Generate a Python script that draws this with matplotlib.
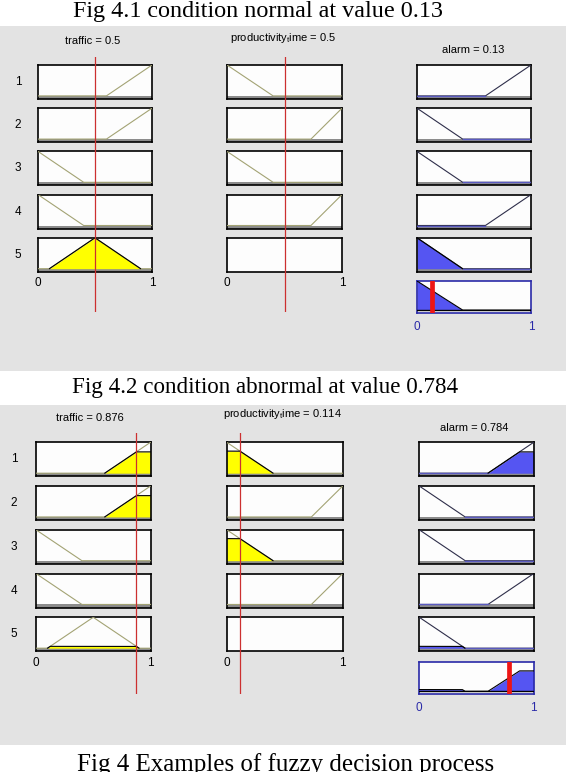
import numpy as np
import matplotlib
matplotlib.use('Agg')
import matplotlib.pyplot as plt
from matplotlib.patches import Rectangle

plt.rcParams['font.family'] = ['Liberation Sans', 'DejaVu Sans']
plt.rcParams['mathtext.fontset'] = 'custom'
plt.rcParams['mathtext.rm'] = 'Liberation Sans'
plt.rcParams['mathtext.it'] = 'Liberation Sans'

W, H = 566, 772

# ---------------- data ----------------
rule_ids = ['1', '2', '3', '4', '5']
traffic_mf_x = [[0.6, 1.0], [0.6, 1.0], [0.0, 0.4], [0.0, 0.4], [0.1, 0.5, 0.9]]
traffic_mf_y = [[0, 1], [0, 1], [1, 0], [1, 0], [0, 1, 0]]
prod_mf_x = [[0.0, 0.4], [0.73, 1.0], [0.0, 0.4], [0.73, 1.0], None]
prod_mf_y = [[1, 0], [0, 1], [1, 0], [0, 1], None]
alarm_mf_x = [[0.6, 1.0], [0.0, 0.4], [0.0, 0.4], [0.6, 1.0], [0.0, 0.4]]
alarm_mf_y = [[0, 1], [1, 0], [1, 0], [0, 1], [1, 0]]

case_titles = ['Fig 4.1 condition normal at value 0.13',
               'Fig 4.2 condition abnormal at value 0.784']
traffic_values = [0.5, 0.876]
prod_values = [0.5, 0.114]
alarm_values = [0.13, 0.784]
caption = 'Fig 4 Examples of fuzzy decision process'

# ---------------- layout (pixels) ----------------
layouts = [
    dict(bg=(26, 371), title_y=11, title_x=258, title_fs=17.4,
         cols=[(38, 152), (227, 342), (417, 531)],
         row_top0=65, row_step=43.2, row_h=34, out_box=(281, 313),
         in_tick_y=283, out_tick_y=327, red=(57, 312),
         head=[(93, 41), (283, 38), (473, 50)], label_x=18),
    dict(bg=(405, 745), title_y=387, title_x=265, title_fs=16.6,
         cols=[(36, 150.5), (226.7, 342.7), (419.3, 533.7)],
         row_top0=442.3, row_step=43.75, row_h=34, out_box=(661.7, 694.3),
         in_tick_y=663, out_tick_y=708, red=(433, 694),
         head=[(90, 417.7), (282, 414.3), (474, 427.7)], label_x=14),
]

BG = '#e3e3e3'
BOX = '#fdfdfd'
STRIP = '#8c8c8c'
IN_LINE = '#a3a374'
OUT_LINE = '#2e2e4a'
OUT_ZERO = '#5a5ac0'
YELLOW = '#ffff00'
BLUE = '#5555f2'
RED_THIN = '#cc3030'
RED_BAR = '#ee1515'
TICK_BLUE = '#2a2aa8'
YLO, YHI = -0.1, 1.0

fig = plt.figure(figsize=(W / 100, H / 100), dpi=100)
fig.patch.set_facecolor('white')
xs = np.linspace(0, 1, 1001)


def add_ax(x0, y0, x1, y1):
    return fig.add_axes([x0 / W, 1 - y1 / H, (x1 - x0) / W, (y1 - y0) / H])


def ftext(x, y, s, **kw):
    fig.text(x / W, 1 - y / H, s, ha='center', va='center', **kw)


def mf_eval(mx, my):
    return np.interp(xs, mx, my)


def style_box(ax, edge='black'):
    ax.set_xlim(0, 1)
    ax.set_ylim(YLO, YHI)
    ax.set_facecolor(BOX)
    ax.set_xticks([])
    ax.set_yticks([])
    for s in ax.spines.values():
        s.set_color(edge)
        s.set_linewidth(1.2)


def draw_mf(ax, mx, my, level, line_col, fill_col, output=False):
    ax.axhspan(YLO, 0, color=STRIP, lw=0, zorder=1)
    m = mf_eval(mx, my)
    ax.plot(xs, m, color=line_col, lw=0.8, zorder=3)
    if output:
        zero = np.where(m <= 1e-9, 0.0, np.nan)
        ax.plot(xs, zero, color=OUT_ZERO, lw=1.0, zorder=4)
    if level > 1e-6:
        clip = np.minimum(m, level)
        ax.fill_between(xs, 0, clip, where=m > 0, color=fill_col, lw=0, zorder=2)
        edge = np.where(m > 0, clip, np.nan)
        ax.plot(xs, edge, color='black', lw=0.8, zorder=4)


for p, L in enumerate(layouts):
    # gray panel
    fig.add_artist(Rectangle((0, 1 - L['bg'][1] / H), 1, (L['bg'][1] - L['bg'][0]) / H,
                             transform=fig.transFigure, facecolor=BG, edgecolor='none', zorder=0))
    ftext(L['title_x'], L['title_y'], case_titles[p],
          family='Liberation Serif', fontsize=L['title_fs'])

    tv, pv, av = traffic_values[p], prod_values[p], alarm_values[p]
    (tx0, tx1), (px0, px1), (ax0, ax1) = L['cols']

    # headers
    ftext(L['head'][0][0], L['head'][0][1], 'traffic = %g' % tv, fontsize=8)
    ftext(L['head'][1][0], L['head'][1][1], r'productivity$_{\rm t}$ime = %g' % pv, fontsize=8)
    ftext(L['head'][2][0], L['head'][2][1], 'alarm = %g' % av, fontsize=8)

    agg = np.zeros_like(xs)
    for i, rid in enumerate(rule_ids):
        top = L['row_top0'] + i * L['row_step']
        bot = top + L['row_h']
        ftext(L['label_x'], (top + bot) / 2, rid, fontsize=8.5)

        # traffic
        a = add_ax(tx0, top, tx1, bot)
        style_box(a)
        mu_t = float(np.interp(tv, traffic_mf_x[i], traffic_mf_y[i]))
        draw_mf(a, traffic_mf_x[i], traffic_mf_y[i], mu_t, IN_LINE, YELLOW)

        # productivity
        a = add_ax(px0, top, px1, bot)
        style_box(a)
        if prod_mf_x[i] is not None:
            mu_p = float(np.interp(pv, prod_mf_x[i], prod_mf_y[i]))
            draw_mf(a, prod_mf_x[i], prod_mf_y[i], mu_p, IN_LINE, YELLOW)
            fire = min(mu_t, mu_p)
        else:
            fire = mu_t

        # alarm
        a = add_ax(ax0, top, ax1, bot)
        style_box(a)
        draw_mf(a, alarm_mf_x[i], alarm_mf_y[i], fire, OUT_LINE, BLUE, output=True)
        agg = np.maximum(agg, np.minimum(mf_eval(alarm_mf_x[i], alarm_mf_y[i]), fire))

    # aggregated output
    ob0, ob1 = L['out_box']
    a = add_ax(ax0, ob0, ax1, ob1)
    style_box(a, edge=TICK_BLUE)
    a.fill_between(xs, 0, agg, color=BLUE, lw=0, zorder=2)
    a.plot(xs, agg, color='black', lw=0.8, zorder=3)
    a.axhline(0, color='black', lw=1.0, zorder=3)
    a.axvline(av, color=RED_BAR, lw=3.4, zorder=5)

    # tick labels
    for (c0, c1) in [(tx0, tx1), (px0, px1)]:
        ftext(c0, L['in_tick_y'], '0', fontsize=8.5)
        ftext(c1, L['in_tick_y'], '1', fontsize=8.5)
    ftext(ax0, L['out_tick_y'], '0', fontsize=8.5, color=TICK_BLUE)
    ftext(ax1, L['out_tick_y'], '1', fontsize=8.5, color=TICK_BLUE)

    # red input lines
    r0, r1 = L['red']
    for (c0, c1), val in [((tx0, tx1), tv), ((px0, px1), pv)]:
        a = add_ax(c0, r0, c1, r1)
        a.set_xlim(0, 1)
        a.axis('off')
        a.patch.set_alpha(0)
        a.axvline(val, color=RED_THIN, lw=0.9)

fig.text(286 / W, 1 - 771 / H, caption, ha='center', va='baseline',
         family='Liberation Serif', fontsize=18)

fig.savefig('out.png', dpi=100, facecolor='white')
